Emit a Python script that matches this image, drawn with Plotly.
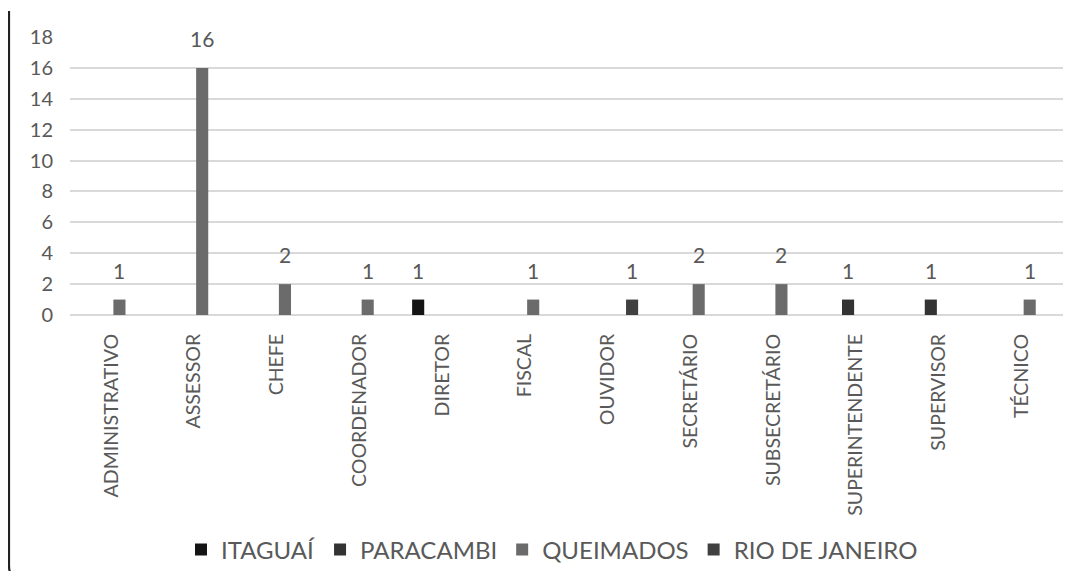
import plotly.graph_objects as go

# categories and values per municipality (blank = no bar)
cargos = ['ADMINISTRATIVO', 'ASSESSOR', 'CHEFE', 'COORDENADOR', 'DIRETOR', 'FISCAL',
          'OUVIDOR', 'SECRETÁRIO', 'SUBSECRETÁRIO', 'SUPERINTENDENTE', 'SUPERVISOR', 'TÉCNICO']
itaguai = [None, None, None, None, 1, None, None, None, None, None, None, None]
paracambi = [None, None, None, None, None, None, None, None, None, 1, 1, None]
queimados = [1, 16, 2, 1, None, 1, None, 2, 2, None, None, 1]
rio = [None, None, None, None, None, None, 1, None, None, None, None, None]

series = [('ITAGUAÍ', itaguai, '#141414'),
          ('PARACAMBI', paracambi, '#333333'),
          ('QUEIMADOS', queimados, '#6b6b6b'),
          ('RIO DE JANEIRO', rio, '#404040')]

FONT = 'Lato'
TXT = '#595959'

# page has an 8px body margin: keep the figure inside the window so nothing
# overflows, and give every position in window pixels
OFF = 8
W, H = 1076 - 2 * OFF, 583 - 2 * OFF - 4
L, T = 70 - OFF, 37 - OFF
R = W - (1063 - OFF)
B = H - (315 - OFF)
PW, PH = W - L - R, H - T - B


def px_x(x):
    return (x - OFF - L) / PW


def px_y(y):
    return (T + PH - (y - OFF)) / PH


fig = go.Figure()
for name, vals, col in series:
    fig.add_trace(go.Bar(x=cargos, y=vals, name=name, marker_color=col,
                         marker_line_width=0))

# data labels above the bars
slot = PW / len(cargos) * (1 - 0.22) / 4
annotations = []
for i, (name, vals, col) in enumerate(series):
    for c, v in zip(cargos, vals):
        if v is None:
            continue
        annotations.append(dict(x=c, y=v, text=str(v), showarrow=False,
                                xshift=(i - 1.5) * slot, yshift=15, yanchor='bottom',
                                font=dict(family=FONT, size=21, color=TXT)))

fig.update_layout(
    width=W, height=H,
    margin=dict(l=L, r=R, t=T, b=B),
    paper_bgcolor='white', plot_bgcolor='white',
    barmode='group', bargap=0.22, bargroupgap=0.25,
    font=dict(family=FONT, color=TXT),
    annotations=annotations,
    showlegend=True,
    legend=dict(orientation='h', xref='container', yref='container',
                x=(552 - OFF) / W, xanchor='center', y=(H - (550 - OFF)) / H, yanchor='middle',
                font=dict(family=FONT, size=24, color=TXT), traceorder='normal'),
    # frame line on the left with the rounded bottom corner
    shapes=[dict(type='path', xref='paper', yref='paper',
                 path=f'M {px_x(9)} {px_y(11)} L {px_x(9)} {px_y(566)} '
                      f'Q {px_x(9)} {px_y(574)} {px_x(14)} {px_y(576)}',
                 line=dict(color='#222222', width=2.2))],
)

fig.update_yaxes(range=[0, 18], dtick=2, showgrid=True, gridcolor='#d9d9d9', gridwidth=1.5,
                 zeroline=True, zerolinecolor='#d9d9d9', zerolinewidth=1.5,
                 showline=False, ticks='', ticklabelstandoff=16,
                 tickfont=dict(family=FONT, size=20, color=TXT), fixedrange=True)
fig.update_xaxes(tickangle=-90, showgrid=False, showline=False, ticks='',
                 ticklabelstandoff=14,
                 tickfont=dict(family=FONT, size=19.5, color=TXT), fixedrange=True)

fig.write_html("out.html")
